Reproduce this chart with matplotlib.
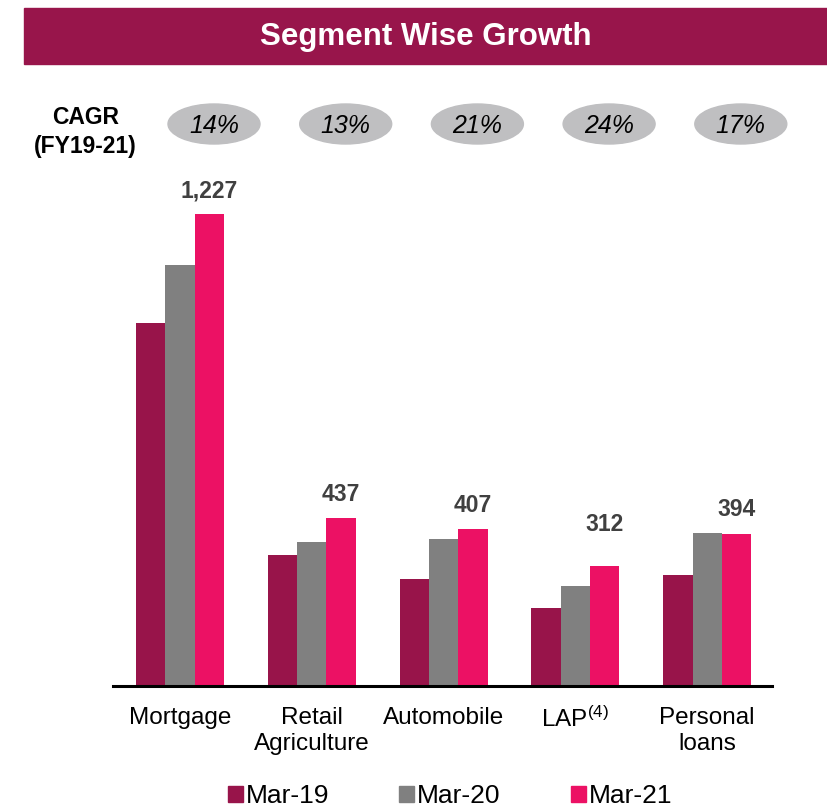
import matplotlib
matplotlib.use("Agg")
import matplotlib.pyplot as plt
from matplotlib.patches import Rectangle, Ellipse, Patch
import numpy as np

plt.rcParams['font.family'] = ['Liberation Sans', 'DejaVu Sans']
plt.rcParams['mathtext.fontset'] = 'custom'
plt.rcParams['mathtext.rm'] = 'Liberation Sans'
plt.rcParams['mathtext.it'] = 'Liberation Sans:italic'

categories = ["Mortgage", "Retail\nAgriculture", "Automobile", "LAP$^{(4)}$", "Personal\nloans"]
series_names = ["Mar-19", "Mar-20", "Mar-21"]
mar19 = [945, 341, 277, 203, 288]
mar20 = [1095, 374, 381, 260, 398]
mar21 = [1227, 437, 407, 312, 394]
value_labels = ["1,227", "437", "407", "312", "394"]
cagr = ["14%", "13%", "21%", "24%", "17%"]

colors = ["#98144A", "#808080", "#EC1164"]
W, H = 828, 807
fig = plt.figure(figsize=(W / 100, H / 100), dpi=100)

def fx(px):
    return px / W

def fy(py):
    return 1 - py / H

# Title banner
fig.patches.append(Rectangle((fx(24), fy(64)), fx(828) - fx(24), fy(8) - fy(64),
                             transform=fig.transFigure, color="#98154B", zorder=0))
fig.text(fx(426), fy(37), "Segment Wise Growth", color="white", fontsize=22.5,
         fontweight="bold", ha="center", va="center")

# Axes
ax_left, ax_right, ax_top, ax_bot = 112.8, 771.8, 170, 686
ax = fig.add_axes([fx(ax_left), fy(ax_bot), fx(ax_right) - fx(ax_left), fy(ax_top) - fy(ax_bot)])
ymax = (ax_bot - ax_top) * 2.6
ax.set_ylim(0, ymax)
ax.set_xlim(-0.51, 4.49)

x = np.arange(len(categories))
bw = 0.2226
for i, (vals, c) in enumerate(zip([mar19, mar20, mar21], colors)):
    ax.bar(x + (i - 1) * bw, vals, width=bw, color=c, label=series_names[i], zorder=2)

label_offsets = [12, 12, 12.5, 25, 13]
for i, (v, lab) in enumerate(zip(mar21, value_labels)):
    ax.annotate(lab, (x[i] + bw, v), xytext=(0, label_offsets[i]), textcoords="offset points",
                ha="center", va="baseline", fontsize=16.5, fontweight="bold", color="#404040")

for s in ["top", "right", "left"]:
    ax.spines[s].set_visible(False)
ax.spines["bottom"].set_linewidth(2.2)
ax.spines["bottom"].set_color("black")
ax.set_yticks([])
ax.set_xticks(x)
ax.set_xticklabels(categories, fontsize=17.5, linespacing=1.22)
ax.tick_params(axis="x", length=0, pad=15)

# CAGR row
fig.text(fx(85.4), fy(132), "CAGR\n(FY19-21)", fontsize=16.5, fontweight="bold",
         ha="center", va="center", linespacing=1.3)
for i, c in enumerate(cagr):
    cx = fx(214 + i * 131.7)
    fig.patches.append(Ellipse((cx, fy(124)), fx(92), 40 / H, transform=fig.transFigure,
                               color="#BFBFC1", zorder=0))
    fig.text(cx, fy(126), c, fontsize=18, fontstyle="italic", ha="center", va="center")

handles = [Patch(color=c) for c in colors]
fig.legend(handles, series_names, loc="center", bbox_to_anchor=(fx(450), fy(796)), ncol=3,
           frameon=False, fontsize=19, handlelength=0.57, handleheight=0.57,
           handletextpad=0.12, columnspacing=2.65, borderaxespad=0, borderpad=0)

fig.savefig("out.png", dpi=100)
